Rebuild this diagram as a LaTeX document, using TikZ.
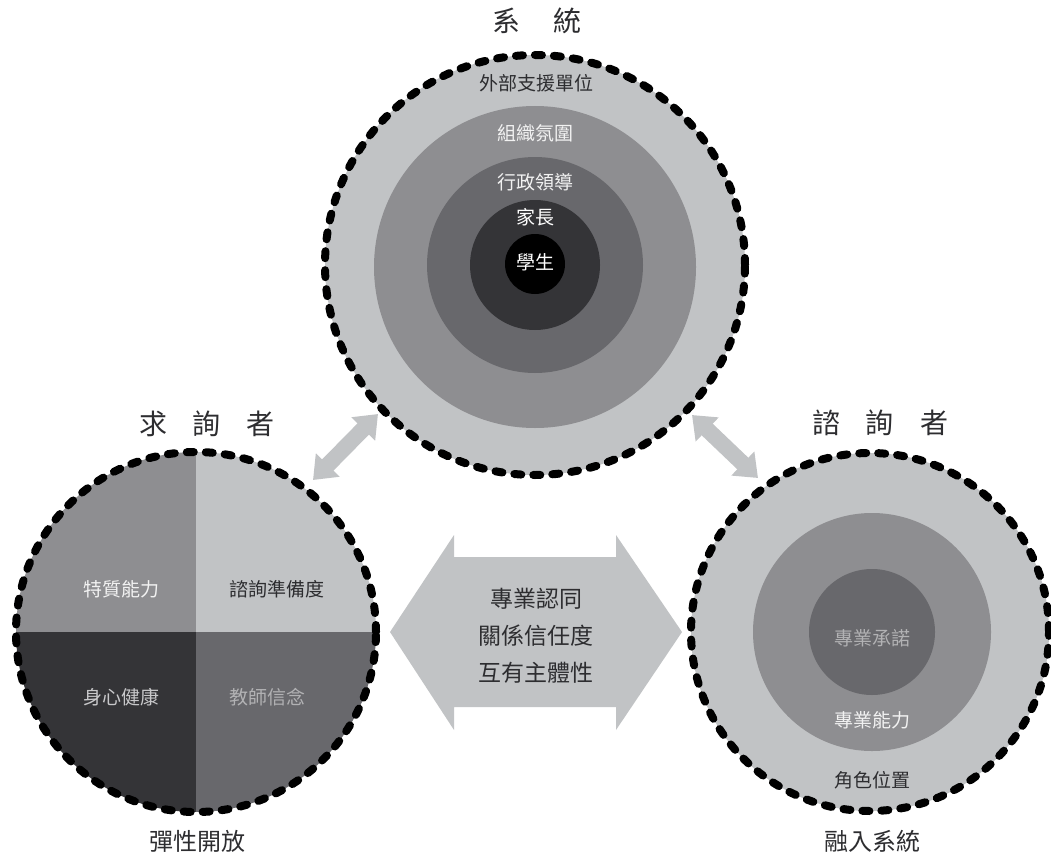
\documentclass[tikz,border=0pt]{standalone}
\usepackage{fontspec}
\setmainfont{Noto Sans CJK TC}
\usetikzlibrary{arrows.meta}
\definecolor{lg}{RGB}{193,195,197}
\definecolor{mg}{RGB}{142,142,145}
\definecolor{dg}{RGB}{104,104,108}
\definecolor{vdg}{RGB}{52,52,55}
\definecolor{txtd}{RGB}{45,45,48}
\definecolor{txtw}{RGB}{242,242,242}
\definecolor{txtg}{RGB}{200,200,202}
\definecolor{txtm}{RGB}{178,178,180}
\begin{document}
\begin{tikzpicture}[x=1pt,y=-1pt,
  disc/.style={circle, inner sep=0pt, minimum size=#1},
  dashring/.style={draw=black, line width=8pt, dash pattern=on 7pt off 12pt, line cap=round},
  lbl/.style={font=\fontsize{19}{19}\selectfont, inner sep=0pt},
  ttl/.style={font=\fontsize{28}{28}\selectfont, inner sep=0pt, text=txtd},
  subttl/.style={font=\fontsize{24}{24}\selectfont, inner sep=0pt, text=txtd},
  dblarrow/.style={draw=lg, line width=16pt, {Triangle[width=32pt,length=21pt]}-{Triangle[width=32pt,length=21pt]}},
]
\useasboundingbox (0,0) rectangle (1051,856);

% double arrows between circles
\coordinate (a1) at (313,480);
\coordinate (a2) at (378,414);
\coordinate (b1) at (692,415);
\coordinate (b2) at (758,478);
\draw[dblarrow] (a1) -- (a2);
\draw[dblarrow] (b1) -- (b2);

% top: system
\node[disc=420pt, fill=lg, dashring] (sys) at (535,265) {};
\node[disc=322pt, fill=mg] (sys2) at (535,267) {};
\node[disc=216pt, fill=dg] (sys3) at (535,265) {};
\node[disc=130pt, fill=vdg] (sys4) at (535,265) {};
\node[disc=60pt, fill=black] (sys5) at (535,264) {};
\node[lbl, text=txtd] (l1) at (536,83) {外部支援單位};
\node[lbl, text=txtw] (l2) at (535,133) {組織氛圍};
\node[lbl, text=txtw] (l3) at (535,182) {行政領導};
\node[lbl, text=white] (l4) at (535,217) {家長};
\node[lbl, text=white] (l5) at (535,262) {學生};
\node[ttl] (tsys) at (537,21) {系\hspace{33pt}統};

% left: seeker
\node[disc=360pt, dashring, path picture={
  \fill[mg] (path picture bounding box.north west) rectangle (path picture bounding box.center);
  \fill[lg] (path picture bounding box.north east) rectangle (path picture bounding box.center);
  \fill[vdg] (path picture bounding box.south west) rectangle (path picture bounding box.center);
  \fill[dg] (path picture bounding box.south east) rectangle (path picture bounding box.center);
}] (seek) at (196,632) {};
\node[lbl, text=txtw] (q1) at (121,589) {特質能力};
\node[lbl, text=txtd] (q2) at (277,589) {諮詢準備度};
\node[lbl, text=txtg] (q3) at (121,697) {身心健康};
\node[lbl, text=txtm] (q4) at (267,697) {教師信念};
\node[ttl] (tseek) at (207,424) {求\hspace{26pt}詢\hspace{26pt}者};
\node[subttl] (sseek) at (197,841) {彈性開放};

% right: consultant
\node[disc=358pt, fill=lg, dashring] (cons) at (870,632) {};
\node[disc=238pt, fill=mg] (cons2) at (872,632) {};
\node[disc=126pt, fill=dg] (cons3) at (872,632) {};
\node[lbl, text=txtm] (r1) at (872,638) {專業承諾};
\node[lbl, text=txtw] (r2) at (872,720) {專業能力};
\node[lbl, text=txtd] (r3) at (872,780) {角色位置};
\node[ttl] (tcons) at (880,423) {諮\hspace{26pt}詢\hspace{26pt}者};
\node[subttl] (scons) at (872,841) {融入系統};

% centre double arrow
\fill[lg] (390,632) -- (454,535) -- (454,557) -- (616,557) -- (616,535) -- (682,632)
  -- (616,730) -- (616,707) -- (454,707) -- (454,730) -- cycle;
\node[font=\fontsize{23}{37}\selectfont, align=center, text=txtd, inner sep=0pt] (mid) at (536,636)
  {專業認同\\關係信任度\\互有主體性};
\end{tikzpicture}
\end{document}
